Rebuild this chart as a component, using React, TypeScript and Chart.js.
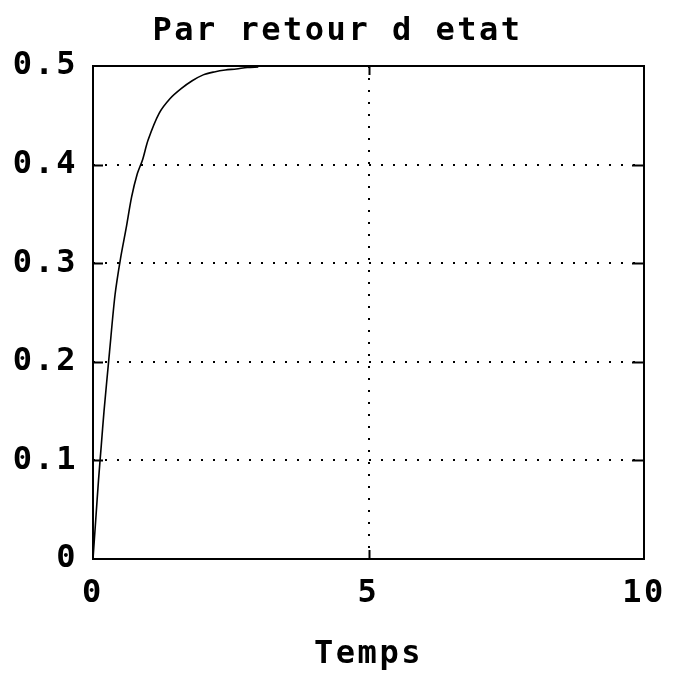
import React, { useEffect, useRef } from "react";
import { Chart, registerables } from "chart.js";

Chart.register(...registerables);

const titleText = "Par retour d etat";
const xAxisTitle = "Temps";
const timeValues = [0, 0.05, 0.1, 0.15, 0.2, 0.3, 0.4, 0.5, 0.6, 0.7, 0.8, 0.9, 1.0, 1.2, 1.4, 1.6, 1.8, 2.0, 2.2, 2.4, 2.6, 2.8, 3.0];
const responseValues = [0, 0.04, 0.08, 0.115, 0.15, 0.21, 0.268, 0.305, 0.335, 0.367, 0.39, 0.405, 0.425, 0.452, 0.467, 0.477, 0.485, 0.491, 0.494, 0.496, 0.497, 0.4985, 0.499];
const xMin = 0;
const xMax = 10;
const xStep = 5;
const yMin = 0;
const yMax = 0.5;
const yStep = 0.1;

const FONT_FAMILY = "'DejaVu Sans Mono', 'Liberation Mono', monospace";
const LETTER_SPACING = "2.5px";

export default function App() {
  const canvasRef = useRef<HTMLCanvasElement | null>(null);

  useEffect(() => {
    document.body.style.margin = "0";
    const canvas = canvasRef.current;
    if (!canvas) return;

    const spacingPlugin = {
      id: "letterSpacing",
      beforeUpdate(chart: any) {
        chart.ctx.letterSpacing = LETTER_SPACING;
      },
      beforeDraw(chart: any) {
        chart.ctx.letterSpacing = LETTER_SPACING;
      },
    };

    const framePlugin = {
      id: "frame",
      afterDatasetsDraw(chart: any) {
        const { ctx, chartArea, scales } = chart;
        const { left, right, top, bottom } = chartArea;
        ctx.save();
        ctx.strokeStyle = "#000";
        ctx.lineWidth = 2;
        ctx.setLineDash([]);
        ctx.strokeRect(left, top, right - left, bottom - top);
        // inward ticks on y
        scales.y.ticks.forEach((t: any) => {
          if (t.value <= yMin + 1e-9 || t.value >= yMax - 1e-9) return;
          const y = Math.round(scales.y.getPixelForValue(t.value)) + 0.5;
          ctx.beginPath();
          ctx.moveTo(left, y);
          ctx.lineTo(left + 10, y);
          ctx.moveTo(right - 12, y);
          ctx.lineTo(right, y);
          ctx.stroke();
        });
        // inward ticks on x
        scales.x.ticks.forEach((t: any) => {
          if (t.value <= xMin || t.value >= xMax) return;
          const x = Math.round(scales.x.getPixelForValue(t.value)) + 0.5;
          ctx.beginPath();
          ctx.moveTo(x, bottom);
          ctx.lineTo(x, bottom - 9);
          ctx.moveTo(x, top);
          ctx.lineTo(x, top + 9);
          ctx.stroke();
        });
        ctx.restore();
      },
    };

    const tickFont = { family: FONT_FAMILY, size: 32, weight: "bold" as const };

    const chart = new Chart(canvas, {
      type: "line",
      data: {
        datasets: [
          {
            data: timeValues.map((t, i) => ({ x: t, y: responseValues[i] })),
            borderColor: "#000",
            borderWidth: 1.6,
            pointRadius: 0,
            tension: 0.3,
            fill: false,
          },
        ],
      },
      options: {
        animation: false,
        responsive: false,
        devicePixelRatio: 1,
        layout: { padding: { top: 0, left: 0, right: 0, bottom: 0 } },
        plugins: {
          legend: { display: false },
          tooltip: { enabled: false },
          title: {
            display: true,
            text: titleText,
            color: "#000",
            font: tickFont,
            padding: { top: 12, bottom: 15.6 },
          },
        },
        scales: {
          x: {
            type: "linear",
            min: xMin,
            max: xMax,
            ticks: {
              stepSize: xStep,
              color: "#000",
              font: tickFont,
              padding: 15,
              maxRotation: 0,
              autoSkip: false,
            },
            grid: {
              drawTicks: false,
              lineWidth: 2,
              color: (c: any) =>
                c.tick && c.tick.value > xMin && c.tick.value < xMax ? "#000" : "rgba(0,0,0,0)",
            },
            border: { display: false, dash: [2, 10] },
            title: {
              display: true,
              text: xAxisTitle,
              color: "#000",
              font: tickFont,
              padding: { top: 0, bottom: 5 },
            },
            afterFit(scale: any) {
              scale.height = 120;
              scale.paddingLeft = 0;
              scale.paddingRight = 31;
            },
          },
          y: {
            type: "linear",
            min: yMin,
            max: yMax,
            ticks: {
              stepSize: yStep,
              color: "#000",
              font: tickFont,
              padding: 15,
            },
            grid: {
              drawTicks: false,
              lineWidth: 2,
              color: (c: any) =>
                c.tick && c.tick.value > yMin + 1e-9 && c.tick.value < yMax - 1e-9 ? "#000" : "rgba(0,0,0,0)",
            },
            border: { display: false, dash: [2, 10] },
            afterFit(scale: any) {
              scale.width = 93;
              scale.paddingTop = 0;
              scale.paddingBottom = 0;
            },
          },
        },
      },
      plugins: [spacingPlugin, framePlugin],
    } as any);

    return () => chart.destroy();
  }, []);

  return (
    <div style={{ position: "fixed", left: 0, top: 0, width: 675, height: 679, background: "#fff" }}>
      <canvas ref={canvasRef} width={675} height={679} style={{ display: "block" }} />
    </div>
  );
}
